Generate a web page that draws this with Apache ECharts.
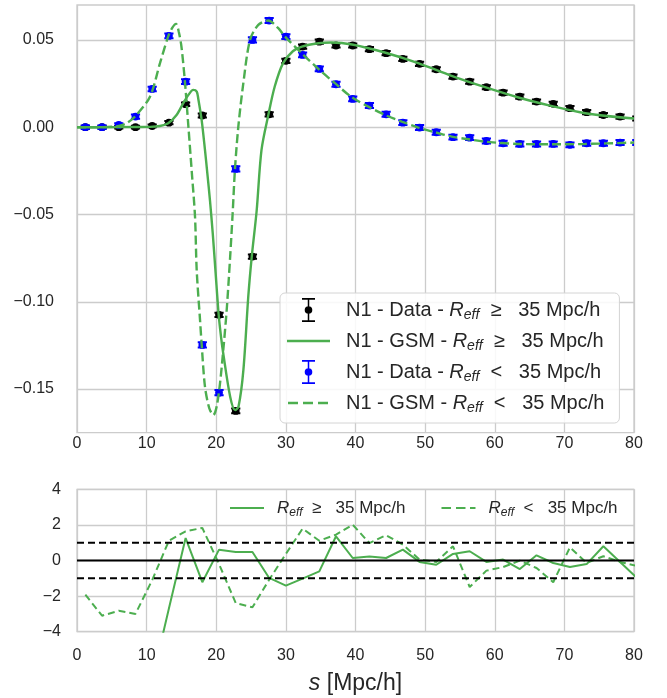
<!DOCTYPE html>
<html><head><meta charset="utf-8">
<script src="https://cdn.jsdelivr.net/npm/echarts@6/dist/echarts.min.js"></script>
<style>html,body{margin:0;padding:0;background:#fff}#c{width:667px;height:698px}</style>
</head><body><div id="c"></div>
<script>
// ---- data ----
const sBins = [1.2, 3.6, 6.0, 8.4, 10.8, 13.2, 15.6, 18.0, 20.4, 22.8, 25.2, 27.6, 30.0, 32.4, 34.8, 37.2, 39.6, 42.0, 44.4, 46.8, 49.2, 51.6, 54.0, 56.4, 58.8, 61.2, 63.6, 66.0, 68.4, 70.8, 73.2, 75.6, 78.0, 80.4];
const dataHi = [0.0, 0.0, 0.0, 0.0, 0.0007, 0.0026, 0.0132, 0.0067, -0.1075, -0.1625, -0.0741, 0.0074, 0.0380, 0.0462, 0.0490, 0.0468, 0.0468, 0.0447, 0.0424, 0.0391, 0.0363, 0.0332, 0.0290, 0.0261, 0.0229, 0.0198, 0.0175, 0.0147, 0.0134, 0.0109, 0.0086, 0.0070, 0.0061, 0.0050];
const errHi = [0.0008, 0.0008, 0.0008, 0.0008, 0.0008, 0.0009, 0.0010, 0.0011, 0.0012, 0.0013, 0.0012, 0.0012, 0.0012, 0.0012, 0.0012, 0.0012, 0.0012, 0.0012, 0.0012, 0.0012, 0.0012, 0.0012, 0.0012, 0.0012, 0.0012, 0.0012, 0.0012, 0.0012, 0.0012, 0.0012, 0.0012, 0.0012, 0.0012, 0.0012];
const dataLo = [0.0, 0.0, 0.0013, 0.0061, 0.0219, 0.0523, 0.0261, -0.1247, -0.1521, -0.0239, 0.0500, 0.0611, 0.0519, 0.0414, 0.0334, 0.0246, 0.0162, 0.0124, 0.0074, 0.0026, -0.0002, -0.0029, -0.0057, -0.0060, -0.0079, -0.0092, -0.0096, -0.0096, -0.0096, -0.0101, -0.0092, -0.0092, -0.0088, -0.0088];
const errLo = [0.0010, 0.0010, 0.0010, 0.0012, 0.0013, 0.0014, 0.0014, 0.0015, 0.0015, 0.0015, 0.0015, 0.0014, 0.0014, 0.0014, 0.0014, 0.0014, 0.0014, 0.0014, 0.0014, 0.0014, 0.0014, 0.0014, 0.0014, 0.0014, 0.0014, 0.0014, 0.0014, 0.0014, 0.0014, 0.0014, 0.0014, 0.0014, 0.0014, 0.0014];

const gsmHiS = [0, 4, 8, 10.5, 11.9, 13.1, 14.3, 15.27, 16.0, 16.7, 17.2, 17.43, 17.9, 18.38, 18.72, 19.1, 19.5, 19.9, 20.35, 20.7, 21.0, 22.0, 22.7, 23.2, 23.9, 24.6, 25.1, 25.8, 26.5, 27.5, 28.4, 29.6, 31.0, 32.3, 34.7, 36.5, 39.5, 44.2, 49.0, 53.8, 58.6, 63.4, 68.1, 73.0, 80.0];
const gsmHiV = [0, 0, 0.0001, 0.0002, 0.0007, 0.0023, 0.0070, 0.0138, 0.0185, 0.0214, 0.0204, 0.0160, 0.0042, -0.0130, -0.0264, -0.0420, -0.0610, -0.0830, -0.1075, -0.1205, -0.1295, -0.1544, -0.1620, -0.1600, -0.1390, -0.0970, -0.0741, -0.0480, -0.0130, 0.0074, 0.0233, 0.0367, 0.0435, 0.0462, 0.0481, 0.0485, 0.0474, 0.0428, 0.0367, 0.0294, 0.0229, 0.0170, 0.0122, 0.0080, 0.0050];
const gsmLoS = [0, 3, 6.0, 7.14, 8.33, 10.48, 11.92, 13.1, 13.7, 14.22, 14.6, 15.0, 15.5, 16.0, 16.5, 16.95, 17.19, 17.67, 17.91, 18.38, 19.0, 19.58, 20.06, 20.54, 21.01, 21.5, 21.97, 22.36, 22.69, 23.17, 23.89, 24.85, 26.04, 27.48, 28.91, 29.87, 32.27, 34.66, 37.05, 39.45, 41.84, 44.24, 46.64, 49.02, 51.42, 53.82, 56.2, 58.6, 63.38, 68.18, 72.96, 80.0];
const gsmLoV = [0, 0, 0.0007, 0.0023, 0.0061, 0.0175, 0.0367, 0.0520, 0.0570, 0.0592, 0.0550, 0.0462, 0.0261, 0.0003, -0.0264, -0.0512, -0.0818, -0.1104, -0.1247, -0.1486, -0.1610, -0.1649, -0.1600, -0.1467, -0.1276, -0.1047, -0.0760, -0.0490, -0.0239, 0.0003, 0.0252, 0.0500, 0.0586, 0.0611, 0.0567, 0.0519, 0.0424, 0.0334, 0.0252, 0.0172, 0.0118, 0.0070, 0.0032, -0.0002, -0.0029, -0.0054, -0.0069, -0.0083, -0.0096, -0.0098, -0.0096, -0.0088];

const resHi = [-9.0, -9.0, -8.5, -8.0, -6.7, -2.70, 1.26, -1.22, 0.61, 0.48, 0.48, -0.98, -1.41, -1.02, -0.61, 1.36, 0.14, 0.23, 0.14, 0.61, -0.08, -0.24, 0.37, 0.52, -0.08, 0.05, -0.48, 0.29, -0.14, -0.37, -0.20, 0.80, -0.08, -0.98];
const resLo = [-1.92, -3.10, -2.82, -3.00, -1.10, 1.11, 1.64, 1.83, -0.20, -2.39, -2.63, -1.08, 0.37, 1.79, 1.11, 1.45, 2.01, 0.98, 1.42, 0.89, 0.05, -0.08, 0.80, -1.49, -0.57, -0.37, -0.01, -0.42, -1.22, 0.74, -0.14, 0.24, -0.08, -0.31];
const refLevels = [-1, 0, 1];

const xRange = [0, 80];
const yTopTicks = [-0.15, -0.10, -0.05, 0.00, 0.05];
const yBotTicks = [-4, -2, 0, 2, 4];

const nDataHi = 'N1 - Data - Reff  ≥   35 Mpc/h';
const nGsmHi  = 'N1 - GSM - Reff  ≥   35 Mpc/h';
const nDataLo = 'N1 - Data - Reff  <   35 Mpc/h';
const nGsmLo  = 'N1 - GSM - Reff  <   35 Mpc/h';
const nResHi  = 'Reff  ≥   35 Mpc/h';
const nResLo  = 'Reff  <   35 Mpc/h';

// ---- styling ----
const GREEN = '#4cae4f';
const GRIDC = '#cccccc';
const TXT = '#262626';
const FONT = 'Liberation Sans';
const minus = v => (v < 0 ? '\u2212' : '') + Math.abs(v);

function errRender(params, api) {
  const x = api.value(0), y = api.value(1), e = api.value(2);
  const p = api.coord([x, y]);
  const hi = api.coord([x, y + e]);
  const lo = api.coord([x, y - e]);
  const color = api.visual('color');
  const cw = 4.6;
  const st = {stroke: color, lineWidth: 2};
  return {type: 'group', children: [
    {type: 'line', shape: {x1: p[0], y1: hi[1], x2: p[0], y2: lo[1]}, style: st},
    {type: 'line', shape: {x1: p[0] - cw, y1: hi[1], x2: p[0] + cw, y2: hi[1]}, style: st},
    {type: 'line', shape: {x1: p[0] - cw, y1: lo[1], x2: p[0] + cw, y2: lo[1]}, style: st},
    {type: 'circle', shape: {cx: p[0], cy: p[1], r: 3.9}, style: {fill: color}}
  ]};
}

// legend icons (errorbar glyph, solid and dashed line glyphs)
const errIcon = 'path://M0,0M43,24M15,0H28V1.8H15ZM15,22.2H28V24H15ZM20.75,1.8H22.25V22.2H20.75ZM25.3,12A3.8,3.8,0,1,1,17.7,12A3.8,3.8,0,1,1,25.3,12Z';
const solidIcon = 'path://M0,0M43,24M0,10.8H43V13.2H0Z';
const dashIcon = 'path://M0,0M43,24M1,10.8H11V13.2H1ZM16,10.8H26V13.2H16ZM31,10.8H41V13.2H31Z';
const solidIconS = 'path://M0,0M34,22M0,9.9H34V12.1H0Z';
const dashIconS = 'path://M0,0M34,22M0,9.9H9.5V12.1H0ZM14.5,9.9H24V12.1H14.5ZM28.5,9.9H34V12.1H28.5Z';

function fmtName(name) {
  const parts = name.split('Reff');
  return (parts[0] ? '{t|' + parts[0] + '}' : '') + '{i|R}{s|eff}{t|' + parts[1] + '}';
}

const chart = echarts.init(document.getElementById('c'), null, {renderer: 'canvas'});

const axisCommon = {
  type: 'value', axisLine: {show: false}, axisTick: {show: false},
  splitLine: {show: true, lineStyle: {color: GRIDC, width: 1.3}}
};

const series = [
  {name: nDataHi, type: 'custom', xAxisIndex: 0, yAxisIndex: 0, renderItem: errRender, clip: true,
   itemStyle: {color: '#000000'}, encode: {x: 0, y: 1}, z: 3,
   data: sBins.map((s, i) => [s, dataHi[i], errHi[i]])},
  {name: nGsmHi, type: 'line', xAxisIndex: 0, yAxisIndex: 0, symbol: 'none', smooth: 0.3, clip: true,
   lineStyle: {color: GREEN, width: 2.4}, itemStyle: {color: GREEN}, z: 4,
   data: gsmHiS.map((s, i) => [s, gsmHiV[i]])},
  {name: nDataLo, type: 'custom', xAxisIndex: 0, yAxisIndex: 0, renderItem: errRender, clip: true,
   itemStyle: {color: '#0000ff'}, encode: {x: 0, y: 1}, z: 3,
   data: sBins.map((s, i) => [s, dataLo[i], errLo[i]])},
  {name: nGsmLo, type: 'line', xAxisIndex: 0, yAxisIndex: 0, symbol: 'none', smooth: 0.3, clip: true,
   lineStyle: {color: GREEN, width: 2.4, type: [9, 4]}, itemStyle: {color: GREEN}, z: 4,
   data: gsmLoS.map((s, i) => [s, gsmLoV[i]])},
  {name: nResHi, type: 'line', xAxisIndex: 1, yAxisIndex: 1, symbol: 'none', clip: true,
   lineStyle: {color: GREEN, width: 2}, itemStyle: {color: GREEN}, z: 3,
   data: sBins.map((s, i) => [s, resHi[i]])},
  {name: nResLo, type: 'line', xAxisIndex: 1, yAxisIndex: 1, symbol: 'none', clip: true,
   lineStyle: {color: GREEN, width: 2, type: [7, 4]}, itemStyle: {color: GREEN}, z: 3,
   data: sBins.map((s, i) => [s, resLo[i]])}
];
refLevels.forEach(v => {
  series.push({type: 'line', xAxisIndex: 1, yAxisIndex: 1, symbol: 'none', silent: true, z: 5,
    lineStyle: {color: '#000', width: 2, type: v === 0 ? 'solid' : [7, 4]},
    data: [[xRange[0], v], [xRange[1], v]]});
});

const richTop = {
  t: {fontFamily: FONT, fontSize: 20, color: TXT, lineHeight: 24},
  i: {fontFamily: FONT, fontSize: 20, fontStyle: 'italic', color: TXT, lineHeight: 24},
  s: {fontFamily: FONT, fontSize: 14, fontStyle: 'italic', color: TXT, lineHeight: 14, verticalAlign: 'bottom'}
};
const richBot = {
  t: {fontFamily: FONT, fontSize: 17, color: TXT, lineHeight: 22},
  i: {fontFamily: FONT, fontSize: 17, fontStyle: 'italic', color: TXT, lineHeight: 22},
  s: {fontFamily: FONT, fontSize: 12, fontStyle: 'italic', color: TXT, lineHeight: 12, verticalAlign: 'bottom'}
};
const noBorder = {borderWidth: 0};

chart.setOption({
  animation: false,
  backgroundColor: '#ffffff',
  textStyle: {fontFamily: FONT},
  grid: [
    {left: 77, top: 5, width: 557, height: 427.7, show: true, borderColor: GRIDC, borderWidth: 1.3, containLabel: false},
    {left: 77, top: 489.3, width: 557, height: 142.4, show: true, borderColor: GRIDC, borderWidth: 1.3, containLabel: false}
  ],
  xAxis: [
    Object.assign({}, axisCommon, {gridIndex: 0, min: xRange[0], max: xRange[1], interval: 10,
      axisLabel: {fontSize: 16, color: TXT, margin: 3, fontFamily: FONT}}),
    Object.assign({}, axisCommon, {gridIndex: 1, min: xRange[0], max: xRange[1], interval: 10,
      axisLabel: {fontSize: 16, color: TXT, margin: 16, fontFamily: FONT},
      name: '{i|s} [Mpc/h]', nameLocation: 'middle', nameGap: 40,
      nameTextStyle: {fontSize: 23, color: TXT, fontFamily: FONT,
        rich: {i: {fontSize: 23, fontStyle: 'italic', color: TXT, fontFamily: FONT}}}})
  ],
  yAxis: [
    Object.assign({}, axisCommon, {gridIndex: 0, min: -0.175, max: 0.07,
      axisTick: {show: false, customValues: yTopTicks},
      axisLabel: {fontSize: 16, color: TXT, margin: 23, fontFamily: FONT, customValues: yTopTicks,
        formatter: v => (v < -1e-9 ? '\u2212' : '') + Math.abs(v).toFixed(2)}}),
    Object.assign({}, axisCommon, {gridIndex: 1, min: -4, max: 4, interval: 2,
      axisLabel: {fontSize: 16, color: TXT, margin: 16, fontFamily: FONT, formatter: minus}})
  ],
  legend: [
    {orient: 'vertical', left: 280, top: 293, itemWidth: 43, itemHeight: 24, itemGap: 7,
     padding: [5, 15, 8, 7], backgroundColor: 'rgba(255,255,255,0.85)', borderColor: '#d4d4d4',
     borderWidth: 1, borderRadius: 5, selectedMode: false, z: 10,
     data: [{name: nDataHi, icon: errIcon, itemStyle: noBorder}, {name: nGsmHi, icon: solidIcon, itemStyle: noBorder},
            {name: nDataLo, icon: errIcon, itemStyle: noBorder}, {name: nGsmLo, icon: dashIcon, itemStyle: noBorder}],
     formatter: fmtName, textStyle: {padding: [0, 0, 0, 11], rich: richTop}},
    {orient: 'horizontal', left: 230, top: 497, itemWidth: 34, itemHeight: 22, itemGap: 36,
     padding: 0, selectedMode: false, z: 10,
     data: [{name: nResHi, icon: solidIconS, itemStyle: noBorder}, {name: nResLo, icon: dashIconS, itemStyle: noBorder}],
     formatter: fmtName, textStyle: {padding: [0, 0, 0, 8], rich: richBot}}
  ],
  series: series
});
</script>
</body></html>
